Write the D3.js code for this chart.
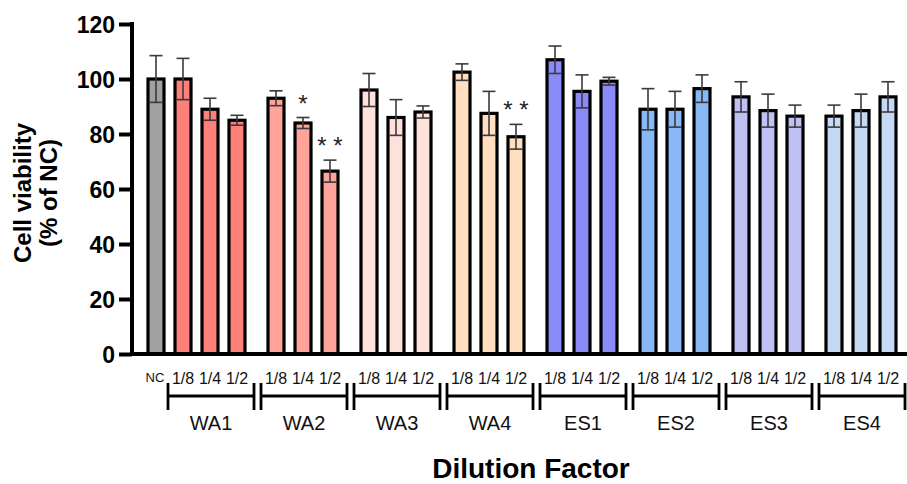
<!DOCTYPE html>
<meta charset="utf-8">
<script src="https://d3js.org/d3.v7.min.js"></script>
<style>
  body { margin: 0; background: #fff; }
  text { font-family: "Liberation Sans", Arial, sans-serif; }
</style>
<div id="my_dataviz"></div>
<script>
// data
var groups = ["WA1", "WA2", "WA3", "WA4", "ES1", "ES2", "ES3", "ES4"];
var dilutions = ["1/8", "1/4", "1/2"];
var groupColors = ["#ff8079", "#ffa39b", "#ffe1dc", "#ffdfbf", "#8a8af8", "#88b8f6", "#c0c0f5", "#c5d9f5"];
var ncValue = 100, ncError = 8.5;
var means = [
  [100, 89, 85],
  [93, 84, 66.5],
  [96, 86, 88],
  [102.5, 87.5, 79],
  [107, 95.5, 99.2],
  [89, 89, 96.5],
  [93.5, 88.5, 86.5],
  [86.5, 88.5, 93.5]
];
var errors = [
  [7.5, 4, 1.8],
  [2.7, 2, 4],
  [6, 6.5, 2.2],
  [3, 8, 4.5],
  [5, 6, 1.4],
  [7.5, 6.5, 5],
  [5.5, 6, 4],
  [4, 6, 5.5]
];
// significance marks: [group, dilution, label]
var marks = [["WA2", "1/4", "*"], ["WA2", "1/2", "* *"], ["WA4", "1/2", "* *"]];
var yTicks = [0, 20, 40, 60, 80, 100, 120];

var width = 907, height = 484;
var svg = d3.select("#my_dataviz").append("svg")
    .attr("width", width).attr("height", height);

// scales
var y = d3.scaleLinear().domain([0, 120]).range([354, 24]);
var xGroup = d3.scalePoint().domain(groups).range([210, 861]);
var xInner = d3.scalePoint().domain(dilutions).range([-27, 27]);
var ncX = xGroup("WA1") - 54;
var barW = 16;

// flatten bars
var bars = [{label: "NC", cx: ncX, v: ncValue, e: ncError, color: "#a0a0a0"}];
groups.forEach(function(g, i) {
  dilutions.forEach(function(d, j) {
    bars.push({group: g, label: d, cx: xGroup(g) + xInner(d), v: means[i][j], e: errors[i][j], color: groupColors[i]});
  });
});

// bars
svg.selectAll(".bar").data(bars).enter().append("rect")
  .attr("class", "bar")
  .attr("x", d => d.cx - barW / 2)
  .attr("y", d => y(d.v))
  .attr("width", barW)
  .attr("height", d => y(0) - y(d.v))
  .attr("fill", d => d.color)
  .attr("stroke", "#000")
  .attr("stroke-width", 3.2);

// error bars
var eb = svg.selectAll(".err").data(bars).enter().append("g")
  .attr("stroke", "#3a3a3a").attr("stroke-width", 1.6);
eb.append("line")
  .attr("x1", d => d.cx).attr("x2", d => d.cx)
  .attr("y1", d => y(d.v + d.e)).attr("y2", d => y(d.v - d.e));
eb.append("line")
  .attr("x1", d => d.cx - 6.5).attr("x2", d => d.cx + 6.5)
  .attr("y1", d => y(d.v + d.e)).attr("y2", d => y(d.v + d.e));
eb.append("line")
  .attr("x1", d => d.cx - 6.5).attr("x2", d => d.cx + 6.5)
  .attr("y1", d => y(d.v - d.e)).attr("y2", d => y(d.v - d.e));

// significance stars
svg.selectAll(".sig").data(marks).enter().append("text")
  .attr("x", d => xGroup(d[0]) + xInner(d[1]))
  .attr("y", function(d) {
    var gi = groups.indexOf(d[0]), di = dilutions.indexOf(d[1]);
    return y(means[gi][di] + errors[gi][di]) - 6;
  })
  .attr("text-anchor", "middle")
  .attr("font-size", 24)
  .attr("fill", "#222")
  .text(d => d[2]);

// y axis
var yAxis = svg.append("g")
  .attr("transform", "translate(132,0)")
  .call(d3.axisLeft(y).tickValues(yTicks).tickSize(13).tickSizeOuter(0));
yAxis.select(".domain").attr("stroke-width", 4).attr("d", "M0," + (y(0) + 2) + "V" + (y(120) - 2));
yAxis.selectAll(".tick line").attr("stroke-width", 4);
yAxis.selectAll(".tick text")
  .attr("x", -17).attr("dy", "0.36em")
  .attr("font-size", 23).attr("font-weight", "bold")
  .attr("font-family", "Liberation Sans, Arial, sans-serif").attr("fill", "#000");

// x axis line
svg.append("line")
  .attr("x1", 130).attr("x2", 907)
  .attr("y1", y(0)).attr("y2", y(0))
  .attr("stroke", "#000").attr("stroke-width", 4);

// dilution labels
svg.selectAll(".xl").data(bars).enter().append("text")
  .attr("x", d => d.label === "NC" ? d.cx - 1 : d.cx)
  .attr("y", d => d.label === "NC" ? 382 : 384)
  .attr("text-anchor", "middle")
  .attr("font-size", d => d.label === "NC" ? 13 : 16)
  .attr("fill", "#111")
  .text(d => d.label);

// group brackets
var br = svg.selectAll(".br").data(groups).enter().append("g")
  .attr("stroke", "#000").attr("stroke-width", 2.8);
br.append("line")
  .attr("x1", d => xGroup(d) - 42).attr("x2", d => xGroup(d) + 44)
  .attr("y1", 396).attr("y2", 396);
br.append("line")
  .attr("x1", d => xGroup(d) - 42).attr("x2", d => xGroup(d) - 42)
  .attr("y1", 383).attr("y2", 410);
br.append("line")
  .attr("x1", d => xGroup(d) + 44).attr("x2", d => xGroup(d) + 44)
  .attr("y1", 383).attr("y2", 410);

svg.selectAll(".gl").data(groups).enter().append("text")
  .attr("x", d => xGroup(d) + 1)
  .attr("y", 430)
  .attr("text-anchor", "middle")
  .attr("font-size", 20)
  .attr("fill", "#111")
  .text(d => d);

// axis titles
svg.append("text")
  .attr("x", 531).attr("y", 478)
  .attr("text-anchor", "middle")
  .attr("font-size", 28).attr("font-weight", "bold")
  .text("Dilution Factor");

var yt = svg.append("text")
  .attr("transform", "translate(31,193) rotate(-90)")
  .attr("text-anchor", "middle")
  .attr("font-size", 24).attr("font-weight", "bold");
yt.append("tspan").attr("x", 0).attr("dy", 0).text("Cell viability");
yt.append("tspan").attr("x", 0).attr("dy", 26).text("(% of NC)");
</script>
